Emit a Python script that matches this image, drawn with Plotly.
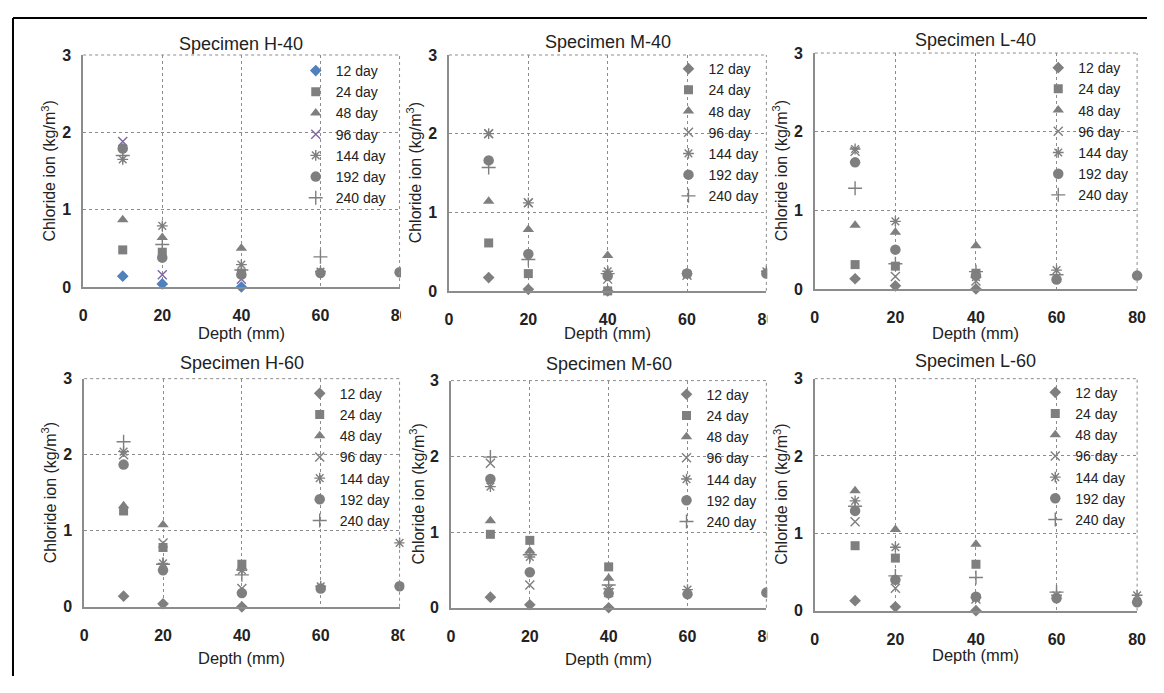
import plotly.graph_objects as go

# page is 1164x693 with the browser's default 8px body margin
PAGE_W, PAGE_H = 1164, 693
OFF = 8
W, H = PAGE_W - 2 * OFF, PAGE_H - 2 * OFF

depths = [10, 20, 40, 60, 80]
series_names = ["12 day", "24 day", "48 day", "96 day", "144 day", "192 day", "240 day"]
panel_titles = ["Specimen H-40", "Specimen M-40", "Specimen L-40",
                "Specimen H-60", "Specimen M-60", "Specimen L-60"]

h40_12 = [0.14, 0.04, 0.00, None, None]
h40_24 = [0.48, 0.45, 0.18, None, None]
h40_48 = [0.87, 0.64, 0.50, None, None]
h40_96 = [1.88, 0.16, 0.10, None, None]
h40_144 = [1.65, 0.79, 0.29, 0.20, None]
h40_192 = [1.79, 0.38, 0.16, 0.18, 0.19]
h40_240 = [1.70, 0.55, 0.22, 0.39, None]

m40_12 = [0.17, 0.02, 0.00, None, None]
m40_24 = [0.61, 0.22, 0.00, None, None]
m40_48 = [1.14, 0.78, 0.45, None, None]
m40_96 = [2.00, 1.12, 0.15, 0.20, None]
m40_144 = [2.00, 1.12, 0.25, 0.22, 0.25]
m40_192 = [1.66, 0.47, 0.19, 0.22, 0.22]
m40_240 = [1.57, 0.40, 0.22, None, None]

l40_12 = [0.13, 0.04, 0.00, None, None]
l40_24 = [0.31, 0.29, 0.20, None, None]
l40_48 = [0.81, 0.72, 0.55, None, None]
l40_96 = [1.75, 0.16, 0.10, None, None]
l40_144 = [1.78, 0.86, 0.15, 0.24, None]
l40_192 = [1.61, 0.50, 0.17, 0.12, 0.17]
l40_240 = [1.28, 0.32, 0.22, 0.18, None]

h60_12 = [0.14, 0.04, 0.00, None, None]
h60_24 = [1.26, 0.78, 0.56, None, None]
h60_48 = [1.33, 1.08, 0.52, None, None]
h60_96 = [2.00, 0.84, 0.24, None, None]
h60_144 = [2.04, 0.57, 0.48, 0.27, 0.84]
h60_192 = [1.87, 0.48, 0.18, 0.24, 0.27]
h60_240 = [2.17, 0.56, 0.42, None, None]

m60_12 = [0.14, 0.04, 0.00, None, None]
m60_24 = [0.97, 0.89, 0.54, None, None]
m60_48 = [1.15, 0.75, 0.39, None, None]
m60_96 = [1.91, 0.30, 0.20, None, None]
m60_144 = [1.60, 0.67, 0.25, 0.24, None]
m60_192 = [1.70, 0.47, 0.19, 0.18, 0.20]
m60_240 = [1.99, 0.70, 0.30, None, None]

l60_12 = [0.13, 0.05, 0.00, None, None]
l60_24 = [0.84, 0.68, 0.60, None, None]
l60_48 = [1.55, 1.05, 0.86, None, None]
l60_96 = [1.15, 0.29, 0.15, None, None]
l60_144 = [1.42, 0.82, 0.17, 0.20, 0.20]
l60_192 = [1.29, 0.40, 0.18, 0.16, 0.11]
l60_240 = [1.35, 0.45, 0.43, 0.24, None]

panels = [
    [h40_12, h40_24, h40_48, h40_96, h40_144, h40_192, h40_240],
    [m40_12, m40_24, m40_48, m40_96, m40_144, m40_192, m40_240],
    [l40_12, l40_24, l40_48, l40_96, l40_144, l40_192, l40_240],
    [h60_12, h60_24, h60_48, h60_96, h60_144, h60_192, h60_240],
    [m60_12, m60_24, m60_48, m60_96, m60_144, m60_192, m60_240],
    [l60_12, l60_24, l60_48, l60_96, l60_144, l60_192, l60_240],
]

x_ticks = [0, 20, 40, 60, 80]
y_ticks = [0, 1, 2, 3]

# page-pixel boxes of the plot areas (left, top, right, bottom)
boxes = [(80, 48, 400, 286), (450, 48, 771, 290), (820, 46, 1146, 288),
         (81, 380, 400, 614), (452, 382, 771, 615), (820, 380, 1146, 618)]
legend_text_x = [335, 712, 1086, 339, 710, 1083]
legend_first_y = [64, 62, 61, 395, 396, 394]
ytitle_x = [45, 415, 785, 45, 418, 785]
xtitle_y = [333, 333, 333, 667, 668, 663]
title_y = [37, 35, 33, 364, 365, 362]

GREY = "#7f7f7f"
symbols = ["diamond", "square", "triangle-up", "x-thin-open", "asterisk-open", "circle", "cross-thin-open"]
sizes = [9, 9, 10, 9, 9, 10.5, 10]
FONT = "Liberation Sans, Arial, sans-serif"
TXT = "#222222"
LEG_FS = 14

fig = go.Figure()


def px(x):
    return (x - OFF) / W


def py(y):
    return 1 - (y - OFF) / H


annotations = []
shapes = []
for i, (data, box) in enumerate(zip(panels, boxes)):
    k = i + 1
    xa = "x" if k == 1 else f"x{k}"
    ya = "y" if k == 1 else f"y{k}"
    lg = "legend" if k == 1 else f"legend{k}"
    for j, (name, vals) in enumerate(zip(series_names, data)):
        color = GREY
        if i == 0 and j == 0:
            color = "#4f81bd"
        if i == 0 and j == 3:
            color = "#8064a2"
        open_sym = symbols[j].endswith("open")
        fig.add_trace(go.Scatter(
            x=depths, y=vals, mode="markers", name=name,
            xaxis=xa, yaxis=ya, legend=lg, cliponaxis=False,
            marker=dict(symbol=symbols[j], size=sizes[j], color=color,
                        line=dict(color=color, width=1.4 if open_sym else 0)),
        ))
    l, t, r, b = box
    axis_common = dict(showgrid=True, gridcolor="#8c8c8c", griddash="dot", gridwidth=1,
                       showline=True, linecolor="#8c8c8c", linewidth=1.5,
                       zeroline=False, ticks="outside", tickcolor="rgba(0,0,0,0)",
                       tickfont=dict(family=FONT, size=16, color=TXT, weight="bold"),
                       fixedrange=True)
    fig.update_layout(**{
        ("xaxis" if k == 1 else f"xaxis{k}"): dict(
            domain=[px(l), px(r)], anchor=ya, range=[0, 80],
            tickvals=x_ticks, ticklen=13, **axis_common),
        ("yaxis" if k == 1 else f"yaxis{k}"): dict(
            domain=[py(b), py(t)], anchor=xa, range=[0, 3],
            tickvals=y_ticks, ticklen=7, **axis_common),
        lg: dict(x=px(legend_text_x[i] - 40), y=py(legend_first_y[i] - 16),
                 xanchor="left", yanchor="top", bgcolor="rgba(0,0,0,0)",
                 font=dict(family=FONT, size=LEG_FS, color=TXT), borderwidth=0,
                 tracegroupgap=0),
    })
    # dashed top/right border
    shapes.append(dict(type="line", xref="paper", yref="paper",
                       x0=px(l), x1=px(r), y0=py(t), y1=py(t),
                       line=dict(color="#8c8c8c", width=1, dash="dot")))
    shapes.append(dict(type="line", xref="paper", yref="paper",
                       x0=px(r), x1=px(r), y0=py(b), y1=py(t),
                       line=dict(color="#8c8c8c", width=1, dash="dot")))
    annotations.append(dict(text=panel_titles[i], xref="paper", yref="paper",
                            x=px((l + r) / 2), y=py(title_y[i]), showarrow=False,
                            xanchor="center", yanchor="middle",
                            font=dict(family=FONT, size=18, color=TXT)))
    annotations.append(dict(text="Chloride ion (kg/m<sup>3</sup>)", xref="paper", yref="paper",
                            x=px(ytitle_x[i]), y=py((t + b) / 2), showarrow=False,
                            textangle=-90, xanchor="center", yanchor="middle",
                            font=dict(family=FONT, size=16, color=TXT)))
    annotations.append(dict(text="Depth (mm)", xref="paper", yref="paper",
                            x=px((l + r) / 2), y=py(xtitle_y[i]), showarrow=False,
                            xanchor="center", yanchor="middle",
                            font=dict(family=FONT, size=16.5, color=TXT)))

# white chart areas of neighbouring panels overlapping the right edge
covers = [(401.5, 12, 411, 345), (772, 12, 781, 345), (405, 345, 414, 693), (772, 345, 781, 693)]
for x0, y0, x1, y1 in covers:
    shapes.append(dict(type="rect", xref="paper", yref="paper", layer="above",
                       x0=px(x0), x1=px(x1), y0=py(y1), y1=py(y0),
                       fillcolor="white", line=dict(width=0)))
# outer frame: left and top edges only (right/bottom run off the page)
shapes.append(dict(type="line", xref="paper", yref="paper", layer="above",
                   x0=px(9), x1=px(9), y0=py(10), y1=0,
                   line=dict(color="black", width=2)))
shapes.append(dict(type="line", xref="paper", yref="paper", layer="above",
                   x0=px(9), x1=1, y0=py(10), y1=py(10),
                   line=dict(color="black", width=2)))

fig.update_layout(width=W, height=H, margin=dict(l=0, r=0, t=0, b=0),
                  paper_bgcolor="white", plot_bgcolor="white",
                  annotations=annotations, shapes=shapes, showlegend=True)

fig.write_html("out.html", config={"displayModeBar": False})
